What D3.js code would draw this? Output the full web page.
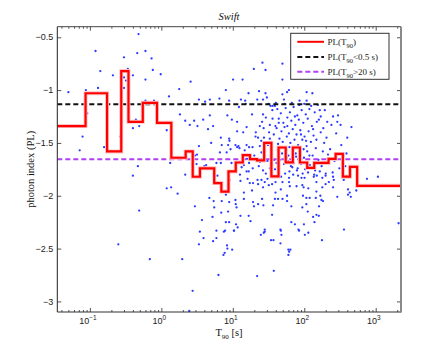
<!DOCTYPE html>
<html>
<head>
<meta charset="utf-8">
<script src="https://cdn.jsdelivr.net/npm/d3@7"></script>
<style>
body { margin: 0; background: #fff; }
</style>
</head>
<body>
<script>
// binned PL(T90) step curve: bin edges in seconds, one PL value per bin
const binEdges = [0.035, 0.087, 0.174, 0.275, 0.347, 0.55, 0.87, 1.38, 2.19, 2.75, 3.47, 5.5, 6.92, 8.71, 11.0,
  13.8, 17.4, 21.9, 27.5, 34.7, 43.7, 55.0, 69.2, 87.1, 110, 138, 219, 275, 347, 437, 550, 2260];
const binPL = [-1.34, -1.03, -1.58, -0.82, -1.30, -1.12, -1.31, -1.64, -1.58, -1.82, -1.74, -1.88, -1.96, -1.77, -1.685,
  -1.616, -1.654, -1.666, -1.50, -1.817, -1.543, -1.684, -1.543, -1.685, -1.736, -1.689, -1.651, -1.604, -1.819, -1.726, -1.906];

const plShort = -1.135; // PL(T90<0.5 s)
const plLong = -1.654;  // PL(T90>20 s)

// individual bursts [T90 (s), photon index]
const bursts = [
  [0.05,-1.02],[0.12,-0.63],[0.14,-0.82],[0.13,-0.98],[0.088,-1.0],[0.21,-0.86],[0.30,-0.69],[0.30,-0.88],[0.34,-0.80],
  [0.32,-0.91],[0.30,-0.98],[0.40,-0.86],[0.48,-0.47],[0.46,-0.65],[0.60,-0.63],[0.73,-0.70],[0.76,-0.81],[0.98,-0.85],
  [0.60,-0.90],[0.60,-1.10],[0.79,-1.10],[1.28,-1.06],[1.78,-0.99],[2.57,-0.92],[3.36,-1.09],[4.1,-1.11],[4.77,-1.09],
  [6.5,-1.08],[8.0,-1.0],[8.9,-1.10],[10.1,-0.90],[13,-1.09],[12.2,-1.16],[14.9,-1.10],[15.2,-1.13],[16.6,-1.03],
  [19.7,-0.80],[23.3,-1.01],[26,-0.74],[28.7,-0.81],[28.7,-1.03],[22,-1.09],[26.5,-1.09],[30,-1.07],[31.6,-1.13],
  [33.7,-1.15],[36,-1.15],[49.5,-0.75],[49.5,-0.90],[49.5,-1.04],[57.5,-1.02],[61,-1.0],[52,-1.09],[86,-1.10],
  [108,-1.02],[108,-1.10],[130,-1.03],[165,-1.19],[194,-1.19],[253,-1.25],[297,-1.24],[170,-1.25],[13.7,-0.90],
  [0.092,-1.22],[0.079,-1.44],[0.072,-1.57],[0.264,-1.44],[0.158,-1.54],[0.44,-1.28],[0.49,-1.34],[0.40,-1.36],
  [0.47,-1.72],[0.40,-1.81],[0.49,-2.14],[1.19,-1.38],[1.33,-1.69],[1.19,-1.93],[1.37,-1.92],[1.69,-1.98],
  [1.82,-1.23],[2.16,-1.29],[2.5,-1.33],[2.88,-1.29],[3.36,-1.53],[2.95,-1.62],[2.16,-1.80],[3.11,-1.70],[3.85,-1.28],
  [4.77,-1.24],[4.98,-1.50],[4.0,-1.72],[6.6,-1.59],[8.4,-1.24],[8.9,-1.46],[11.5,-1.39],[12,-1.53],[14,-1.40],
  [18.6,-1.23],[26.5,-1.23],[29,-1.26],[25.7,-1.30],
  [0.25,-2.46],[0.69,-2.60],[1.96,-2.60],[2.74,-2.90],[2.46,-3.09],[3.46,-2.34],[3.9,-2.40],[3.36,-2.46],[5.3,-2.43],
  [5.9,-2.40],[7.5,-2.34],[8.3,-2.47],[8.4,-2.50],[9.8,-2.51],[7.7,-2.54],[7.4,-2.56],[6.3,-2.75],[10.4,-2.33],
  [21.9,-2.76],[24.7,-2.37],[28,-2.34],[34.3,-2.42],[37.1,-2.42],[37.5,-2.71],[47,-2.33],[48,-2.37],[46.5,-2.45],
  [60,-2.51],[61.5,-2.53],[60,-2.56],[64,-2.51],[84.6,-2.33],[102,-2.37],[114,-2.35],[177,-2.42],[360,-2.32],[2090,-2.26],
  [6.1,-1.81],[9.0,-1.85],[12.8,-1.86],[16.1,-1.84],[17.3,-1.88],[19.2,-1.88],[22.2,-1.85],[25.2,-1.85],[28,-1.87],
  [30.6,-1.84],[22.6,-1.89],[26.5,-1.92],[31.9,-1.90],[35.5,-1.89],[39.6,-1.87],[18.6,-1.95],[14.3,-1.97],[39.6,-1.97],
  [8.0,-1.99],[4.7,-2.02],[5.4,-2.05],[2.95,-2.10],[7.0,-2.05],[8.9,-2.06],[10.9,-2.04],[14.3,-2.03],[19.2,-2.06],
  [25.7,-2.03],[38.9,-2.03],[43,-2.03],[5.5,-2.11],[11,-2.08],[11.3,-2.11],[19.8,-2.10],[22.6,-2.08],[26.8,-2.09],
  [36.6,-2.09],[6.9,-2.16],[8.6,-2.15],[5.2,-2.20],[12.8,-2.19],[16.7,-2.19],[35.5,-2.18],[3.7,-2.23],[17.7,-2.24],
  [8.0,-2.25],[8.9,-2.25],[11.1,-2.27],[11.7,-2.30],[7.8,-2.33],[10.4,-2.33],[5.9,-2.33],[28,-2.32],[27.2,-2.35],
  [47.4,-1.82],[61.3,-1.83],[81.9,-1.81],[91.5,-1.83],[101,-1.83],[136,-1.82],[150,-1.81],[179,-1.83],[199,-1.81],
  [253,-1.82],[49.6,-1.87],[61.3,-1.87],[148,-1.87],[221,-1.87],[259,-1.85],[62.8,-1.91],[78,-1.91],[94,-1.90],
  [98,-1.92],[179,-1.92],[199,-1.89],[253,-1.92],[114,-1.93],[47,-1.94],[148,-1.96],[410,-1.94],[433,-1.97],
  [535,-1.95],[357,-1.85],[57.5,-2.0],[49.6,-2.03],[57.5,-2.05],[96,-2.0],[107,-2.02],[119,-2.02],[145,-2.02],
  [168,-2.0],[174,-2.04],[183,-2.05],[290,-2.01],[410,-1.99],[448,-2.01],[66,-2.10],[94,-2.11],[107,-2.08],
  [161,-2.10],[112,-2.15],[148,-2.18],[160,-2.19],[133,-2.20],[66,-2.25],[74,-2.27],[99,-2.27],[139,-2.25],
  [83,-2.32],[46.4,-2.32],[755,-1.84],[1075,-1.82],[322,-1.33],[458,-1.35],[390,-1.60],
  [38.8,-1.15],[35.8,-1.19],[9.7,-1.28],[11.5,-1.30],[5.3,-1.34],[3.2,-1.34],[4.5,-1.37],[15.6,-1.35],[23.9,-1.34],
  [33,-1.33],[39.5,-1.34],[44,-1.31],[20.8,-1.44],[22.6,-1.45],[32.2,-1.40],[37.5,-1.42],[6.8,-1.45],[9.0,-1.48],
  [7.0,-1.52],[8.6,-1.52],[10.9,-1.52],[12.4,-1.55],[18.9,-1.54],[23.9,-1.53],[27.3,-1.45],[34.8,-1.49],[43,-1.51],
  [3.15,-1.61],[4.24,-1.71],[14.7,-1.57],[16.1,-1.62],[25.2,-1.59],[26.5,-1.65],[30.5,-1.67],[14.3,-1.71],[15.6,-1.77],
  [16.7,-1.77],[16.9,-1.69],[23.1,-1.72],[26.5,-1.76],[33,-1.74],[40.9,-1.69],[10.9,-1.74],[12.6,-1.80],
  [8.2,-1.59],[9.3,-1.56],[5.9,-1.69],[6.8,-1.69],[9.6,-1.69],[12.6,-1.68],[13.3,-1.73],[15.8,-1.65],[11.5,-1.54],
  [16.9,-1.54],[15.6,-1.52],
  [42,-1.18],[47,-1.22],[55,-1.17],[63,-1.21],[71,-1.16],[80,-1.24],[92,-1.19],[105,-1.23],[118,-1.18],[140,-1.21],
  [160,-1.28],[210,-1.30],[44,-1.27],[51,-1.31],[58,-1.26],[66,-1.29],[75,-1.33],[84,-1.28],[97,-1.31],[112,-1.27],
  [128,-1.34],[150,-1.30],[185,-1.36],[240,-1.33],[41,-1.36],[48,-1.39],[53,-1.35],[61,-1.41],[69,-1.37],[78,-1.42],
  [88,-1.38],[101,-1.44],[115,-1.39],[135,-1.43],[170,-1.40],[205,-1.45],[280,-1.41],[45,-1.46],[50,-1.49],[57,-1.44],
  [64,-1.50],[73,-1.47],[82,-1.52],[94,-1.47],[108,-1.53],[124,-1.49],[145,-1.55],[190,-1.50],[230,-1.56],[330,-1.52],
  [43,-1.56],[49,-1.60],[56,-1.57],[60,-1.62],[68,-1.58],[77,-1.63],[86,-1.59],[99,-1.64],[110,-1.58],[131,-1.62],
  [158,-1.66],[215,-1.61],[265,-1.67],[46,-1.66],[52,-1.70],[59,-1.67],[65,-1.72],[72,-1.69],[81,-1.74],[90,-1.70],
  [103,-1.75],[120,-1.71],[142,-1.76],[175,-1.72],[250,-1.78],[310,-1.74],[44,-1.76],[54,-1.79],[62,-1.77],[70,-1.80],
  [79,-1.76],[95,-1.79],[113,-1.78],[138,-1.80],[165,-1.77],[200,-1.79],[40,-1.12],[53,-1.13],[67,-1.12],[85,-1.14],
  [100,-1.13],[125,-1.15],[155,-1.14],[74,-1.25],[58,-1.34],[90,-1.42],[62,-1.54],[98,-1.56],[76,-1.60],[57,-1.64],
  [87,-1.66],[68,-1.73],[118,-1.62],[106,-1.48],[133,-1.37],[148,-1.47],[182,-1.58],[220,-1.70],[360,-1.62],[400,-1.45],
  [290,-1.30],[375,-1.72],[20,-1.62],[24,-1.68],[28,-1.58],[31,-1.52],[35,-1.60],[38,-1.66],[21,-1.40],[27,-1.36],
  [33,-1.46],[36,-1.27],[39,-1.75],[29,-1.79],[19,-1.74],[25,-1.48]
];

const xMajor = [0.1, 1, 10, 100, 1000];
const xExp = ["\u22121", "0", "1", "2", "3"];
const yMajor = [-3, -2.5, -2, -1.5, -1, -0.5];

const W = 443, H = 352;
const L = 57.3, R = 401, T = 26.7, B = 312;

const svg = d3.select("body").append("svg")
  .attr("width", W).attr("height", H)
  .style("display", "block");

const x = d3.scaleLog().domain([0.035, 2260]).range([L, R]);
const y = d3.scaleLinear().domain([-3.1, -0.4]).range([B, T]);

svg.append("defs").append("clipPath").attr("id", "plot")
  .append("rect").attr("x", L).attr("y", T).attr("width", R - L).attr("height", B - T);

// minor log ticks
const xMinor = [];
for (let e = -2; e <= 3; e++) {
  for (let k = 2; k <= 9; k++) {
    const v = k * Math.pow(10, e);
    if (v > 0.035 && v < 2260) xMinor.push(v);
  }
}

const plot = svg.append("g").attr("clip-path", "url(#plot)");

// scatter
plot.append("g").selectAll("circle")
  .data(bursts)
  .join("circle")
  .attr("cx", d => x(d[0]))
  .attr("cy", d => y(d[1]))
  .attr("r", 1.15)
  .attr("fill", "#2b3bff");

// reference lines
plot.append("line")
  .attr("x1", L).attr("x2", R)
  .attr("y1", y(plShort)).attr("y2", y(plShort))
  .attr("stroke", "#111").attr("stroke-width", 2)
  .attr("stroke-dasharray", "5,3");
plot.append("line")
  .attr("x1", L).attr("x2", R)
  .attr("y1", y(plLong)).attr("y2", y(plLong))
  .attr("stroke", "#b140f2").attr("stroke-width", 2)
  .attr("stroke-dasharray", "5,3");

// step curve
const stepPts = binPL.map((v, i) => [binEdges[i], v]);
stepPts.push([binEdges[binEdges.length - 1], binPL[binPL.length - 1]]);
const stepLine = d3.line().x(d => x(d[0])).y(d => y(d[1])).curve(d3.curveStepAfter);
plot.append("path").datum(stepPts)
  .attr("d", stepLine).attr("fill", "none")
  .attr("stroke", "#ffc4c4").attr("stroke-width", 4);
plot.append("path").datum(stepPts)
  .attr("d", stepLine).attr("fill", "none")
  .attr("stroke", "#ff0000").attr("stroke-width", 2.2);

// axes (ticks inside, MATLAB style)
const tickCol = "#555";
function styleAxis(g) {
  g.selectAll(".tick line").attr("stroke", tickCol);
  g.select(".domain").remove();
}
svg.append("g").attr("transform", `translate(0,${B})`)
  .call(d3.axisBottom(x).tickValues(xMajor).tickSize(-4).tickFormat(""))
  .call(styleAxis);
svg.append("g").attr("transform", `translate(0,${B})`)
  .call(d3.axisBottom(x).tickValues(xMinor).tickSize(-2).tickFormat(""))
  .call(styleAxis);
svg.append("g").attr("transform", `translate(0,${T})`)
  .call(d3.axisTop(x).tickValues(xMajor).tickSize(-4).tickFormat(""))
  .call(styleAxis);
svg.append("g").attr("transform", `translate(0,${T})`)
  .call(d3.axisTop(x).tickValues(xMinor).tickSize(-2).tickFormat(""))
  .call(styleAxis);
svg.append("g").attr("transform", `translate(${L},0)`)
  .call(d3.axisLeft(y).tickValues(yMajor).tickSize(-4).tickFormat(""))
  .call(styleAxis);
svg.append("g").attr("transform", `translate(${R},0)`)
  .call(d3.axisRight(y).tickValues(yMajor).tickSize(-4).tickFormat(""))
  .call(styleAxis);

// box
svg.append("line").attr("x1", L).attr("x2", L).attr("y1", T).attr("y2", B).attr("stroke", "#222").attr("stroke-width", 1);
svg.append("line").attr("x1", L).attr("x2", R).attr("y1", B).attr("y2", B).attr("stroke", "#333").attr("stroke-width", 1.2);
svg.append("line").attr("x1", L).attr("x2", R).attr("y1", T).attr("y2", T).attr("stroke", "#444").attr("stroke-width", 1);
svg.append("line").attr("x1", R).attr("x2", R).attr("y1", T).attr("y2", B + 0.6).attr("stroke", "#8a8a8a").attr("stroke-width", 2);

// y tick labels
svg.append("g").selectAll("text")
  .data(yMajor)
  .join("text")
  .attr("x", L - 4)
  .attr("y", d => y(d))
  .attr("dy", "0.35em")
  .attr("text-anchor", "end")
  .attr("font-family", "Liberation Sans, Arial, sans-serif")
  .attr("font-size", 9)
  .attr("fill", "#222")
  .text(d => d3.format(".2~f")(d).replace("-", "\u2212"));

// x tick labels 10^n
const xl = svg.append("g").selectAll("text")
  .data(xMajor)
  .join("text")
  .attr("x", d => x(d) - 2)
  .attr("y", 324)
  .attr("text-anchor", "middle")
  .attr("font-family", "Liberation Sans, Arial, sans-serif")
  .attr("font-size", 9)
  .attr("fill", "#222");
xl.append("tspan").text("10");
xl.append("tspan").attr("dy", -4).attr("font-size", 6.5).text((d, i) => xExp[i]);

// axis titles
const xt = svg.append("text")
  .attr("x", 229).attr("y", 336)
  .attr("text-anchor", "middle")
  .attr("font-family", "Liberation Serif, Times New Roman, serif")
  .attr("font-size", 10.5)
  .attr("fill", "#111");
xt.append("tspan").text("T");
xt.append("tspan").attr("dy", 3).attr("font-size", 7).text("90");
xt.append("tspan").attr("dy", -3).text(" [s]");

svg.append("text")
  .attr("transform", `translate(34,${(T + B) / 2}) rotate(-90)`)
  .attr("text-anchor", "middle")
  .attr("font-family", "Liberation Serif, Times New Roman, serif")
  .attr("font-size", 10.5)
  .attr("fill", "#111")
  .text("photon index (PL)");

svg.append("text")
  .attr("x", 229).attr("y", 19.5)
  .attr("text-anchor", "middle")
  .attr("font-family", "Liberation Serif, Times New Roman, serif")
  .attr("font-style", "italic")
  .attr("font-size", 10.5)
  .attr("fill", "#111")
  .text("Swift");

// legend
const leg = svg.append("g");
leg.append("rect")
  .attr("x", 290.7).attr("y", 33.3).attr("width", 98.3).attr("height", 46)
  .attr("fill", "#fff").attr("stroke", "#333").attr("stroke-width", 1);
const legItems = [
  { col: "#ff0000", dash: null, sub: "90", tail: ")" },
  { col: "#111", dash: "5,3", sub: "90", tail: "<0.5 s)" },
  { col: "#b140f2", dash: "5,3", sub: "90", tail: ">20 s)" }
];
const legY = [41.8, 57, 71.7];
legItems.forEach((it, i) => {
  leg.append("line")
    .attr("x1", 297.3).attr("x2", 324)
    .attr("y1", legY[i]).attr("y2", legY[i])
    .attr("stroke", it.col).attr("stroke-width", 2)
    .attr("stroke-dasharray", it.dash);
  const t = leg.append("text")
    .attr("x", 327.5).attr("y", legY[i] + 3)
    .attr("font-family", "Liberation Serif, Times New Roman, serif")
    .attr("font-size", 9)
    .attr("fill", "#222");
  t.append("tspan").text("PL(T");
  t.append("tspan").attr("dy", 3).attr("font-size", 6.5).text(it.sub);
  t.append("tspan").attr("dy", -3).text(it.tail);
});
</script>
</body>
</html>
